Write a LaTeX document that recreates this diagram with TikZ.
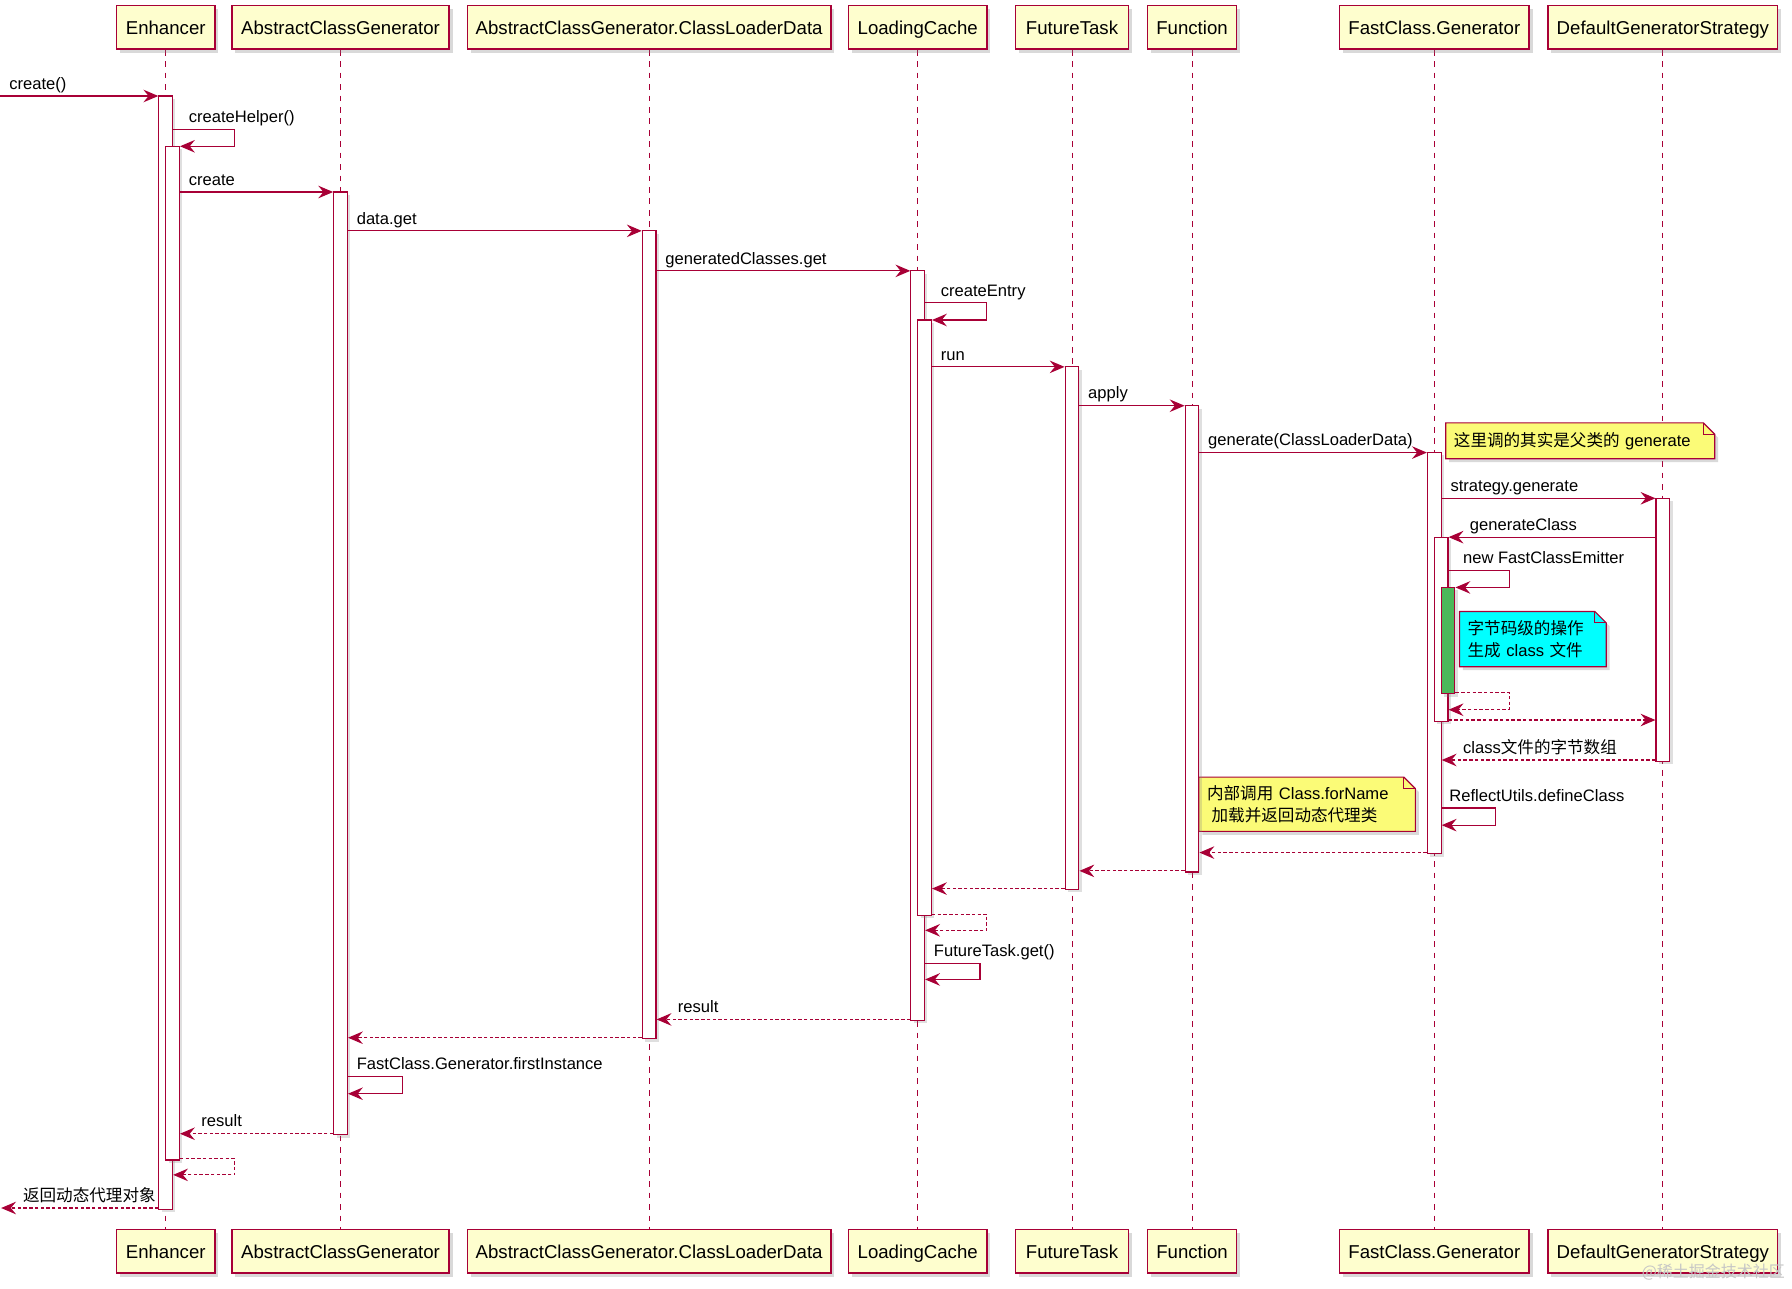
\documentclass[tikz,border=0pt]{standalone}
\usepackage{fontspec}
\setmainfont{Liberation Sans}
\newfontfamily\cjk{Noto Sans CJK SC}
\usetikzlibrary{arrows.meta,shadows,backgrounds}
\definecolor{pumlred}{HTML}{A80036}
\definecolor{pumlfill}{HTML}{FEFECE}
\definecolor{notefill}{HTML}{FBFB77}
\definecolor{notecyan}{HTML}{00FFFF}
\definecolor{actgreen}{HTML}{4CB85A}
\newcommand\zh[1]{{\cjk #1}}
\newcommand\mkpart[4]{%
  \node[participant, minimum width=#3] (p#1) at (#2,24) {#4};
  \node[participant, minimum width=#3] (q#1) at (#2,1095) {#4};
  \begin{scope}[on background layer]\draw[lifeline] (p#1.south) -- (q#1.north);\end{scope}}
\newcommand\actbar[5][]{\node[actbox,#1,minimum height={#5-#4}] (#2) at (#3,{(#4+#5)/2}) {};}
\newcommand\notepoly[2]{%
  \begin{scope}[on background layer]
  \path[notebox, fill=#2] (#1.north west) -- ([xshift=-10pt]#1.north east) -- ([yshift=-10pt]#1.north east) -- (#1.south east) -- (#1.south west) -- cycle;
  \draw[draw=pumlred, line width=1pt] ([xshift=-10pt]#1.north east) -- ([xshift=-10pt,yshift=-10pt]#1.north east) -- ([yshift=-10pt]#1.north east);
  \end{scope}}
\begin{document}
\begin{tikzpicture}[x=1pt,y=-1pt,
  participant/.style={draw=pumlred, fill=pumlfill, line width=1.2pt, minimum height=38pt, inner sep=0pt,
    text height=11.8pt, text depth=0pt,
    font=\fontsize{16.3}{19}\selectfont, drop shadow={shadow xshift=3pt, shadow yshift=-3pt, opacity=0.3}},
  lifeline/.style={draw=pumlred, line width=0.9pt, dash pattern=on 5pt off 5pt},
  actbox/.style={draw=pumlred, fill=white, line width=1pt, minimum width=12pt, inner sep=0pt,
    drop shadow={shadow xshift=2.5pt, shadow yshift=-2.5pt, opacity=0.25}},
  msg/.style={draw=pumlred, line width=1pt, -{Stealth[length=13pt,width=11pt,inset=4.5pt]}},
  ret/.style={msg, dash pattern=on 3pt off 2pt},
  lbl/.style={anchor=base west, inner sep=0pt, font=\fontsize{14.5}{17}\selectfont},
  notetext/.style={anchor=north west, inner xsep=7pt, inner ysep=0pt, align=left, font=\fontsize{14.5}{19}\selectfont},
  notebox/.style={draw=pumlred, line width=1pt, drop shadow={shadow xshift=3pt, shadow yshift=-3pt, opacity=0.3}}
]
\useasboundingbox (0,0) rectangle (1568,1127);

% participants and lifelines
\mkpart{E}{145}{86pt}{Enhancer}
\mkpart{A}{298}{190pt}{AbstractClassGenerator}
\mkpart{C}{568}{318pt}{AbstractClassGenerator.ClassLoaderData}
\mkpart{L}{803}{121pt}{LoadingCache}
\mkpart{T}{938}{99pt}{FutureTask}
\mkpart{F}{1043}{78pt}{Function}
\mkpart{G}{1255}{166pt}{FastClass.Generator}
\mkpart{S}{1455}{201pt}{DefaultGeneratorStrategy}

% activation bars
\actbar{eA}{145}{84}{1058}
\actbar{eB}{151}{128}{1015}
\actbar{aA}{298}{168}{993}
\actbar{cA}{568}{202}{909}
\actbar{lA}{803}{237}{893}
\actbar{lB}{809}{280}{801}
\actbar{tA}{938}{321}{778}
\actbar{fA}{1043}{355}{763}
\actbar{gA}{1255}{396}{747}
\actbar{sA}{1455}{436}{666}
\actbar{gB}{1261}{470}{631}
\actbar[fill=actgreen]{gC}{1267}{514}{607}

% notes
\node[notetext, minimum height=31pt, text width=221pt] (n1) at (1265,370) {\zh{这里调的其实是父类的} generate};
\notepoly{n1}{notefill}
\node[notetext, minimum height=48pt, text width=114pt] (n2) at (1277,535) {\zh{字节码级的操作}\\\zh{生成} class \zh{文件}};
\notepoly{n2}{notecyan}
\node[notetext, minimum height=47pt, text width=175pt] (n3) at (1049,680) {\zh{内部调用} Class.forName\\\hspace{4pt}\zh{加载并返回动态代理类}};
\notepoly{n3}{notefill}

% free ends
\coordinate (entry) at (0,84);
\coordinate (exit) at (1,1057);

% messages
\draw[msg] (entry) -- (eA.west |- 0,84);
\node[lbl] (m1) at (8,78) {create()};

\draw[msg] (eA.east |- 0,113) -- ++(54,0) |- (eB.east |- 0,128);
\node[lbl] (m2) at (165,107) {createHelper()};

\draw[msg] (eB.east |- 0,168) -- (aA.west |- 0,168);
\node[lbl] (m3) at (165,162) {create};

\draw[msg] (aA.east |- 0,202) -- (cA.west |- 0,202);
\node[lbl] (m4) at (312,196) {data.get};

\draw[msg] (cA.east |- 0,237) -- (lA.west |- 0,237);
\node[lbl] (m5) at (582,231) {generatedClasses.get};

\draw[msg] (lA.east |- 0,265) -- ++(54,0) |- (lB.east |- 0,280);
\node[lbl] (m6) at (823,259) {createEntry};

\draw[msg] (lB.east |- 0,321) -- (tA.west |- 0,321);
\node[lbl] (m7) at (823,315) {run};

\draw[msg] (tA.east |- 0,355) -- (fA.west |- 0,355);
\node[lbl] (m8) at (952,349) {apply};

\draw[msg] (fA.east |- 0,396) -- (gA.west |- 0,396);
\node[lbl] (m9) at (1057,390) {generate(ClassLoaderData)};

\draw[msg] (gA.east |- 0,436) -- (sA.west |- 0,436);
\node[lbl] (m10) at (1269,430) {strategy.generate};

\draw[msg] (sA.west |- 0,470) -- (gB.east |- 0,470);
\node[lbl] (m11) at (1286,464) {generateClass};

\draw[msg] (gB.east |- 0,499) -- ++(53,0) |- (gC.east |- 0,514);
\node[lbl] (m12) at (1280,493) {new FastClassEmitter};

\draw[ret] (gC.east |- 0,606) -- ++(47,0) |- (gB.east |- 0,621);

\draw[ret] (gB.east |- 0,630) -- (sA.west |- 0,630);

\draw[ret] (sA.west |- 0,665) -- (gA.east |- 0,665);
\node[lbl] (m15) at (1280,659) {class\zh{文件的字节数组}};

\draw[msg] (gA.east |- 0,707) -- ++(47,0) |- (gA.east |- 0,722);
\node[lbl] (m16) at (1268,701) {ReflectUtils.defineClass};

\draw[ret] (gA.west |- 0,746) -- (fA.east |- 0,746);
\draw[ret] (fA.west |- 0,762) -- (tA.east |- 0,762);
\draw[ret] (tA.west |- 0,777.5) -- (lB.east |- 0,777.5);

\draw[ret] (lB.east |- 0,800) -- ++(48,0) |- (lA.east |- 0,814);

\draw[msg] (lA.east |- 0,843) -- ++(48,0) |- (lA.east |- 0,857);
\node[lbl] (m21) at (817,837) {FutureTask.get()};

\draw[ret] (lA.west |- 0,892) -- (cA.east |- 0,892);
\node[lbl] (m22) at (593,886) {result};

\draw[ret] (cA.west |- 0,908) -- (aA.east |- 0,908);

\draw[msg] (aA.east |- 0,942) -- ++(48,0) |- (aA.east |- 0,957);
\node[lbl] (m24) at (312,936) {FastClass.Generator.firstInstance};

\draw[ret] (aA.west |- 0,992) -- (eB.east |- 0,992);
\node[lbl] (m25) at (176,986) {result};

\draw[ret] (eB.east |- 0,1014) -- ++(48,0) |- (eA.east |- 0,1028);

\draw[ret] (eA.west |- 0,1057) -- (exit);
\node[lbl] (m27) at (20,1051) {\zh{返回动态代理对象}};

% watermark
\node[anchor=base east, inner sep=0pt, text=gray!45, font=\fontsize{14}{16}\selectfont] (wm) at (1562,1118) {\zh{@稀土掘金技术社区}};
\end{tikzpicture}
\end{document}
